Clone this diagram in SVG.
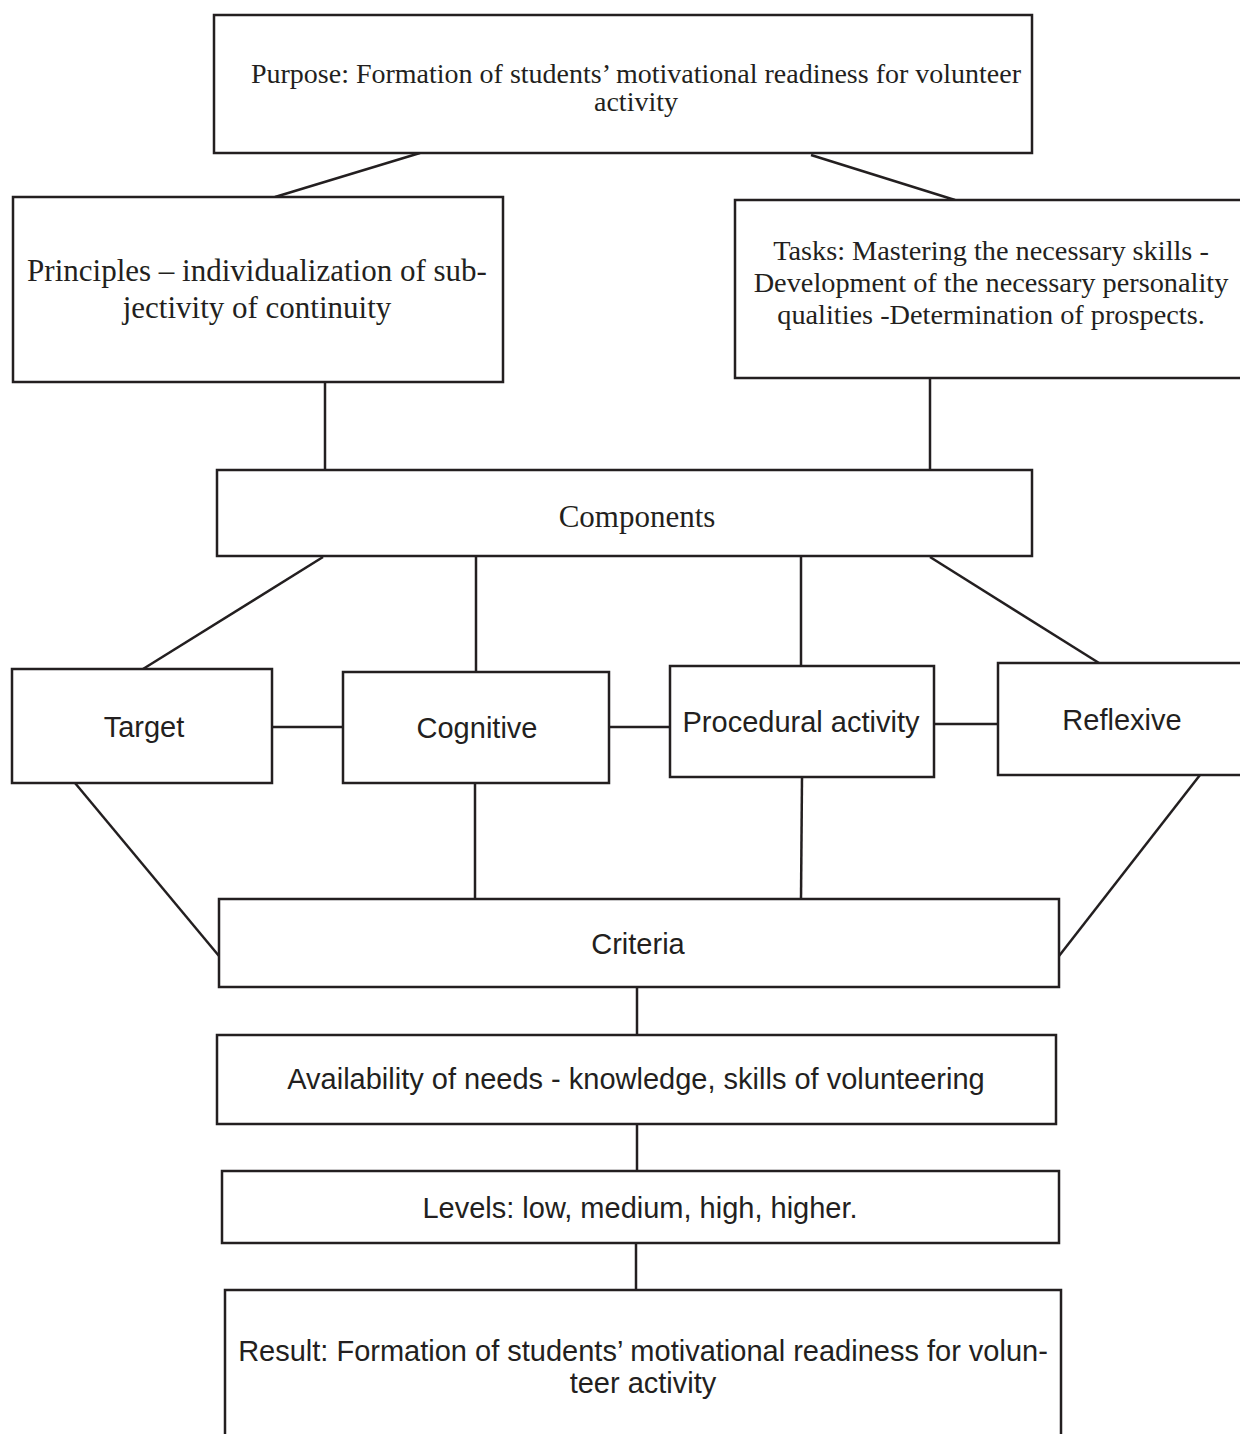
<svg xmlns="http://www.w3.org/2000/svg" width="1240" height="1434" viewBox="0 0 1240 1434">
<style>
.box{fill:#fff;stroke:#231f20;stroke-width:2.5}
.ln{stroke:#231f20;stroke-width:2.5;fill:none}
.serif{font-family:"Liberation Serif","Times New Roman",serif;fill:#231f20;text-anchor:middle}
.sans{font-family:"Liberation Sans",Arial,sans-serif;fill:#231f20;text-anchor:middle;font-size:29px}
</style>
<rect width="1240" height="1434" fill="#fff"/>
<g id="connectors">
<line class="ln" x1="420" y1="153" x2="275" y2="197"/>
<line class="ln" x1="811" y1="155" x2="955" y2="200"/>
<line class="ln" x1="325" y1="382" x2="325" y2="470"/>
<line class="ln" x1="930" y1="378" x2="930" y2="470"/>
<line class="ln" x1="323" y1="557" x2="143" y2="669"/>
<line class="ln" x1="476" y1="557" x2="476" y2="672"/>
<line class="ln" x1="801" y1="557" x2="801" y2="666"/>
<line class="ln" x1="930" y1="557" x2="1099" y2="663"/>
<line class="ln" x1="272" y1="727" x2="343" y2="727"/>
<line class="ln" x1="609" y1="727" x2="670" y2="727"/>
<line class="ln" x1="934" y1="724" x2="998" y2="724"/>
<line class="ln" x1="75" y1="783" x2="219" y2="956"/>
<line class="ln" x1="475" y1="783" x2="475" y2="899"/>
<line class="ln" x1="802" y1="777" x2="801" y2="899"/>
<line class="ln" x1="1200" y1="775" x2="1059" y2="956"/>
<line class="ln" x1="637" y1="987" x2="637" y2="1035"/>
<line class="ln" x1="637" y1="1124" x2="637" y2="1171"/>
<line class="ln" x1="636" y1="1243" x2="636" y2="1290"/>
</g>
<g id="purpose">
<rect class="box" x="214" y="15" width="818" height="138"/>
<text class="serif" font-size="28" x="636" y="83">Purpose: Formation of students’ motivational readiness for volunteer</text>
<text class="serif" font-size="28" x="636" y="111">activity</text>
</g>
<g id="principles">
<rect class="box" x="13" y="197" width="490" height="185"/>
<text class="serif" font-size="31" x="257" y="281">Principles – individualization of sub-</text>
<text class="serif" font-size="31" x="257" y="318">jectivity of continuity</text>
</g>
<g id="tasks">
<rect class="box" x="735" y="200" width="520" height="178"/>
<text class="serif" font-size="28.3" x="991" y="260">Tasks: Mastering the necessary skills -</text>
<text class="serif" font-size="28.3" x="991" y="292">Development of the necessary personality</text>
<text class="serif" font-size="28.3" x="991" y="324">qualities -Determination of prospects.</text>
</g>
<g id="components">
<rect class="box" x="217" y="470" width="815" height="86"/>
<text class="serif" font-size="31" x="637" y="527">Components</text>
</g>
<g id="target">
<rect class="box" x="12" y="669" width="260" height="114"/>
<text class="sans" x="144" y="737">Target</text>
</g>
<g id="cognitive">
<rect class="box" x="343" y="672" width="266" height="111"/>
<text class="sans" x="477" y="738">Cognitive</text>
</g>
<g id="procedural">
<rect class="box" x="670" y="666" width="264" height="111"/>
<text class="sans" x="801" y="732">Procedural activity</text>
</g>
<g id="reflexive">
<rect class="box" x="998" y="663" width="260" height="112"/>
<text class="sans" x="1122" y="730">Reflexive</text>
</g>
<g id="criteria">
<rect class="box" x="219" y="899" width="840" height="88"/>
<text class="sans" x="638" y="954">Criteria</text>
</g>
<g id="availability">
<rect class="box" x="217" y="1035" width="839" height="89"/>
<text class="sans" x="636" y="1089">Availability of needs - knowledge, skills of volunteering</text>
</g>
<g id="levels">
<rect class="box" x="222" y="1171" width="837" height="72"/>
<text class="sans" x="640" y="1218">Levels: low, medium, high, higher.</text>
</g>
<g id="result">
<rect class="box" x="225" y="1290" width="836" height="160"/>
<text class="sans" x="643" y="1361">Result: Formation of students’ motivational readiness for volun-</text>
<text class="sans" x="643" y="1393">teer activity</text>
</g>
</svg>
